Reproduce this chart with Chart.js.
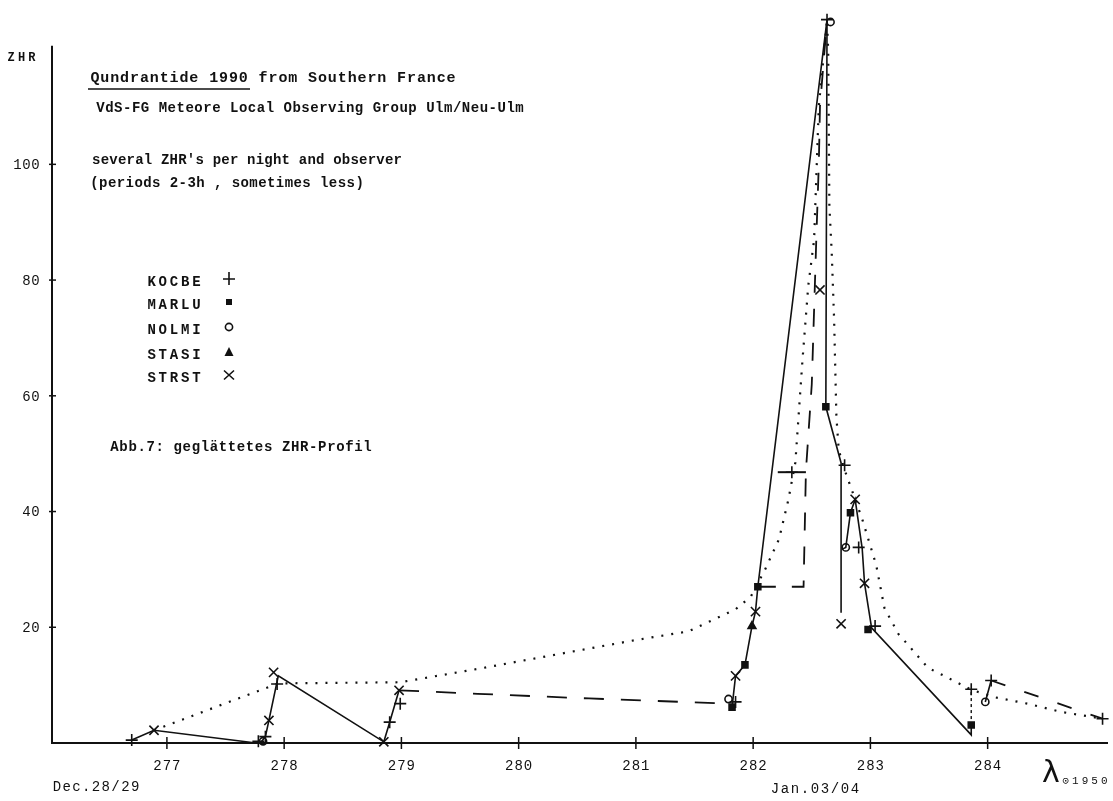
<!DOCTYPE html>
<html>
<head>
<meta charset="utf-8">
<script src="https://cdn.jsdelivr.net/npm/chart.js@4.4.1/dist/chart.umd.min.js"></script>
<style>
html,body{margin:0;padding:0;background:#fff;}
canvas{display:block;}
</style>
</head>
<body>
<canvas id="c" width="1113" height="801"></canvas>
<script>
// Solar longitude ticks (λ☉ 1950) and ZHR ticks
const xTicks = [277, 278, 279, 280, 281, 282, 283, 284];
const yTicks = [20, 40, 60, 80, 100];

// Observed ZHR profile, joined per observing night  [λ, ZHR]
const profileNight1 = [[276.70,0.5],[276.89,2.2],[277.76,0.0],[277.80,0.1],[277.84,1.1],[277.87,3.9],[277.95,11.6],[278.85,0.2],[278.90,3.6],[278.98,9.1]];
const profilePeak   = [[281.82,6.2],[281.85,11.6],[281.93,13.5],[281.99,20.2],[282.02,22.7],[282.04,27.0],[282.63,125.0],[282.62,58.1],[282.75,48.4],[282.75,22.5]];
const profileDecay  = [[282.76,33.5],[282.79,33.8],[282.83,39.8],[282.87,42.1],[282.93,33.6],[282.95,27.6],[283.01,19.9],[283.86,1.4],[283.86,3.1]];
const profileLast   = [[283.98,7.1],[284.03,10.8]];

// Smoothed ZHR profile (dotted)
const smoothed = [[276.89,2.2],[277.95,10.3],[278.99,10.5],[279.65,12.8],[280.35,15.4],[281.00,17.8],[281.45,19.3],[281.85,23.1],[281.98,25.3],[282.10,29.9],[282.22,35.2],[282.30,42.0],[282.36,48.5],[282.42,66.0],[282.47,79.0],[282.52,87.0],[282.56,110.0],[282.60,118.5],[282.63,125.0],[282.64,119.6],[282.65,92.8],[282.67,84.8],[282.69,73.5],[282.70,65.0],[282.71,56.4],[282.73,50.6],[282.78,47.2],[282.93,38.7],[283.05,30.7],[283.12,23.3],[283.24,18.8],[283.32,17.0],[283.49,13.0],[283.60,11.9],[283.86,9.2],[284.06,7.9],[284.34,6.8],[284.62,5.4],[284.98,4.2]];

// Interpolated stretches (dashed)
const dashedGap  = [[278.98,9.1],[279.65,8.5],[280.60,7.7],[281.79,6.8]];
const dashedRise = [[282.04,27.0],[282.43,27.0],[282.45,47.0],[282.50,62.0],[282.52,75.0],[282.54,88.0],[282.56,100.0],[282.57,110.0],[282.63,125.0]];
const dashedTail = [[284.03,10.8],[284.98,4.2]];
const dashDotLink = [[283.86,3.1],[283.86,9.3]];
const periodBar  = [[282.21,46.8],[282.45,46.8]];

// Individual observers' ZHR values
const kocbe = [[276.70,0.5],[277.78,0.3],[277.84,1.1],[277.94,10.2],[278.90,3.6],[278.99,6.8],[281.85,7.1],[282.33,46.8],[282.63,125.0],[282.78,48.0],[282.90,33.8],[283.04,20.2],[283.86,9.3],[284.03,10.8],[284.98,4.2]];
const marlu = [[281.82,6.2],[281.93,13.5],[282.04,27.0],[282.62,58.1],[282.83,39.8],[282.98,19.6],[283.86,3.1]];
const nolmi = [[277.82,0.3],[281.79,7.6],[282.79,33.8],[283.98,7.1],[282.66,124.6]];
const stasi = [[281.99,20.2]];
const strst = [[276.89,2.2],[277.87,3.9],[277.91,12.2],[278.85,0.2],[278.98,9.1],[281.85,11.6],[282.02,22.7],[282.57,78.3],[282.75,20.6],[282.87,42.1],[282.95,27.6]];

const observers = ['KOCBE', 'MARLU', 'NOLMI', 'STASI', 'STRST'];

const INK = '#111';
const MONO = '"Liberation Mono", "DejaVu Sans Mono", monospace';

function pts(a) { return a.map(p => ({ x: p[0], y: p[1] })); }
function lineSet(a, dash, w) {
  return { data: pts(a), showLine: true, borderColor: INK, borderWidth: w, borderDash: dash,
           borderCapStyle: 'butt', pointRadius: 0, pointHoverRadius: 0, fill: false, tension: 0, clip: false };
}
function markSet(a, style, r, filled) {
  return { data: pts(a), showLine: false, pointStyle: style, pointRadius: r, pointHoverRadius: r,
           pointBorderWidth: 1.6, pointBorderColor: INK,
           pointBackgroundColor: filled ? INK : 'rgba(0,0,0,0)', clip: false };
}

// Fixed-pitch text, like a typewriter line
function typeLine(ctx, str, x, y, width, size, weight) {
  ctx.font = (weight || 'bold') + ' ' + (size || 15) + 'px ' + MONO;
  ctx.textAlign = 'center';
  ctx.textBaseline = 'middle';
  const pitch = width / str.length;
  for (let i = 0; i < str.length; i++) {
    ctx.fillText(str[i], x + pitch * (i + 0.5), y);
  }
}

function drawSymbol(ctx, kind, x, y) {
  ctx.save();
  ctx.strokeStyle = INK; ctx.fillStyle = INK; ctx.lineWidth = 1.6;
  ctx.beginPath();
  if (kind === 0) { ctx.moveTo(x - 6, y); ctx.lineTo(x + 6, y); ctx.moveTo(x, y - 7); ctx.lineTo(x, y + 6); ctx.stroke(); }
  else if (kind === 1) { ctx.fillRect(x - 3, y - 3, 6, 6); }
  else if (kind === 2) { ctx.arc(x, y, 3.6, 0, Math.PI * 2); ctx.stroke(); }
  else if (kind === 3) { ctx.moveTo(x, y - 5); ctx.lineTo(x + 4.5, y + 4); ctx.lineTo(x - 4.5, y + 4); ctx.closePath(); ctx.fill(); }
  else { ctx.moveTo(x - 5, y - 4.5); ctx.lineTo(x + 5, y + 4.5); ctx.moveTo(x + 5, y - 4.5); ctx.lineTo(x - 5, y + 4.5); ctx.stroke(); }
  ctx.restore();
}

const frame = {
  id: 'frame',
  beforeDatasetsDraw(chart) {
    const ctx = chart.ctx;
    const xs = chart.scales.x, ys = chart.scales.y;
    const x0 = xs.getPixelForValue(xs.min), y0 = ys.getPixelForValue(0);
    ctx.save();
    ctx.strokeStyle = INK; ctx.fillStyle = INK;
    // axes
    ctx.lineWidth = 2;
    ctx.beginPath();
    ctx.moveTo(x0, ys.getPixelForValue(120.5));
    ctx.lineTo(x0, y0);
    ctx.lineTo(1108, y0);
    ctx.stroke();
    // x ticks and labels
    ctx.lineWidth = 1.5;
    xTicks.forEach(v => {
      const px = xs.getPixelForValue(v);
      ctx.beginPath(); ctx.moveTo(px, y0 - 6); ctx.lineTo(px, y0 + 6); ctx.stroke();
      typeLine(ctx, String(v), px - 14, 766, 28, 14, 'normal');
    });
    // y ticks and labels
    yTicks.forEach(v => {
      const py = ys.getPixelForValue(v);
      ctx.beginPath(); ctx.moveTo(x0 - 3, py); ctx.lineTo(x0 + 4, py); ctx.stroke();
      const s = String(v);
      typeLine(ctx, s, 40 - s.length * 9, py + 1, s.length * 9, 14, 'normal');
    });
    // axis captions
    typeLine(ctx, 'ZHR', 6, 58, 31, 12);
    typeLine(ctx, 'Dec.28/29', 52, 787, 88, 14, 'normal');
    typeLine(ctx, 'Jan.03/04', 770, 789, 90, 14, 'normal');
    ctx.font = '30px "DejaVu Sans", sans-serif';
    ctx.textAlign = 'left'; ctx.textBaseline = 'alphabetic';
    ctx.fillText('λ', 1042, 782);
    typeLine(ctx, '⊙1950', 1061, 781, 48, 11, 'normal');
    ctx.restore();
  },
  afterDraw(chart) {
    const ctx = chart.ctx;
    ctx.save();
    ctx.fillStyle = INK; ctx.strokeStyle = INK;
    typeLine(ctx, 'Qundrantide 1990 from Southern France', 90, 78, 366, 15);
    ctx.lineWidth = 1.6;
    ctx.beginPath(); ctx.moveTo(88, 89); ctx.lineTo(250, 89); ctx.stroke();
    typeLine(ctx, 'VdS-FG Meteore Local Observing Group Ulm/Neu-Ulm', 96, 108, 428, 14);
    typeLine(ctx, "several ZHR's per night and observer", 92, 160, 310, 14);
    typeLine(ctx, '(periods 2-3h , sometimes less)', 90, 183, 274, 14);
    const rows = [282, 305, 330, 355, 378];
    observers.forEach((name, i) => {
      typeLine(ctx, name, 146, rows[i], 56, 14);
      drawSymbol(ctx, i, 229, rows[i] - 3);
    });
    typeLine(ctx, 'Abb.7: geglättetes ZHR-Profil', 110, 447, 262, 14);
    ctx.restore();
  }
};

new Chart(document.getElementById('c'), {
  type: 'scatter',
  data: {
    datasets: [
      markSet(kocbe, 'cross', 6, false),
      markSet(marlu, 'rect', 4.2, true),
      markSet(nolmi, 'circle', 3.6, false),
      markSet(stasi, 'triangle', 4.5, true),
      markSet(strst, 'crossRot', 6.5, false),
      lineSet(profileNight1, [], 1.6),
      lineSet(profilePeak, [], 1.6),
      lineSet(profileDecay, [], 1.6),
      lineSet(profileLast, [], 1.6),
      lineSet(periodBar, [], 2),
      lineSet(smoothed, [2, 8], 2.2),
      lineSet(dashedGap, [20, 17], 1.8),
      lineSet(dashedRise, [18, 16], 1.8),
      lineSet(dashedTail, [15, 20], 1.8),
      lineSet(dashDotLink, [3, 3], 1.4)
    ]
  },
  options: {
    responsive: false,
    animation: false,
    devicePixelRatio: 1,
    events: [],
    layout: { padding: { left: 52, right: 0, top: 0, bottom: 58 } },
    plugins: { legend: { display: false }, tooltip: { enabled: false } },
    scales: {
      x: { type: 'linear', display: false, min: 276.02, max: 285.0 },
      y: { type: 'linear', display: false, min: 0, max: 127 }
    }
  },
  plugins: [frame]
});
</script>
</body>
</html>
